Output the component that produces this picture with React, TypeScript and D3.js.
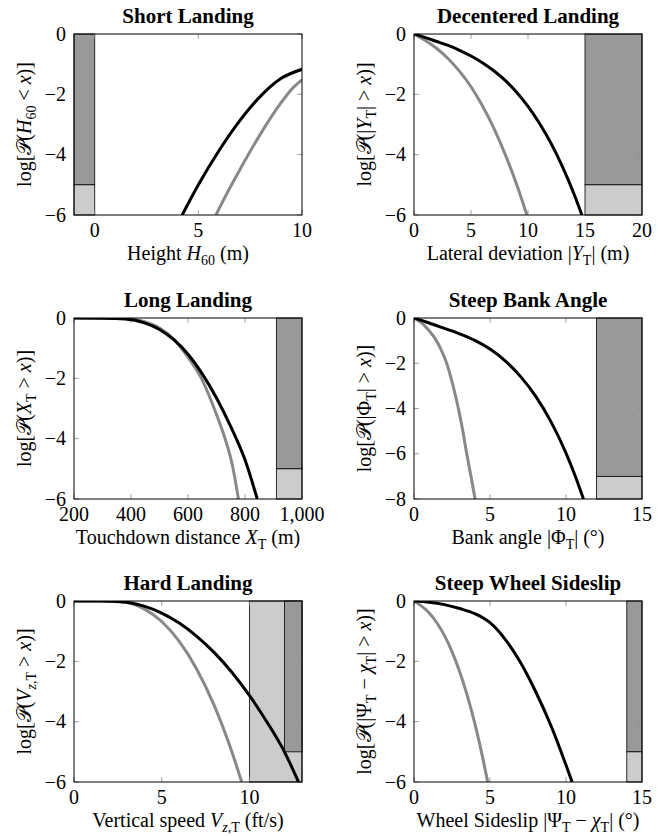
import React from "react";
import * as d3 from "d3";

type Pt = [number, number];
type Seg = { t: string; i?: boolean; sub?: boolean };

// panel order: row by row, left then right
const titles = [
  "Short Landing",
  "Decentered Landing",
  "Long Landing",
  "Steep Bank Angle",
  "Hard Landing",
  "Steep Wheel Sideslip",
];

const xDomains: [number, number][] = [[-1, 10], [0, 20], [200, 1000], [0, 15], [0, 13], [0, 15]];
const yDomains: [number, number][] = [[-6, 0], [-6, 0], [-6, 0], [-8, 0], [-6, 0], [-6, 0]];

const xTicks = [
  [0, 5, 10],
  [0, 5, 10, 15, 20],
  [200, 400, 600, 800, 1000],
  [0, 5, 10, 15],
  [0, 5, 10],
  [0, 5, 10, 15],
];
const yTicks = [
  [0, -2, -4, -6],
  [0, -2, -4, -6],
  [0, -2, -4, -6],
  [0, -2, -4, -6, -8],
  [0, -2, -4, -6],
  [0, -2, -4, -6],
];

// black curves
const shortBlack: Pt[] = [[4.22, -6], [5, -5.0], [6, -3.86], [7, -2.87], [8, -2.06], [9, -1.47], [10, -1.17]];
const decentBlack: Pt[] = [[0, 0], [1, -0.12], [2, -0.25], [3, -0.38], [4, -0.54], [5, -0.73], [6, -0.95], [7, -1.22], [8, -1.54], [9, -1.93], [10, -2.4], [11, -2.96], [12, -3.61], [13, -4.38], [14, -5.27], [14.73, -6]];
const longBlack: Pt[] = [[200, 0], [300, -0.005], [380, -0.03], [450, -0.17], [500, -0.38], [550, -0.72], [600, -1.2], [650, -1.85], [700, -2.65], [750, -3.6], [800, -4.7], [843, -6]];
const bankBlack: Pt[] = [[0, 0], [1, -0.22], [2, -0.46], [3, -0.7], [4, -0.99], [5, -1.37], [6, -1.89], [7, -2.58], [8, -3.45], [9, -4.57], [10, -5.97], [10.6, -6.97], [11.15, -8]];
const hardBlack: Pt[] = [[0, 0], [1, 0], [2, -0.005], [3, -0.04], [4, -0.17], [5, -0.4], [6, -0.73], [7, -1.17], [8, -1.71], [9, -2.36], [10, -3.13], [11, -4.01], [12, -5.0], [12.8, -6]];
const slipBlack: Pt[] = [[0, 0], [1, -0.04], [2, -0.12], [3, -0.25], [4, -0.42], [5, -0.72], [6, -1.27], [7, -2.03], [8, -3.0], [9, -4.12], [10, -5.44], [10.4, -6]];

// gray curves
const shortGray: Pt[] = [[5.85, -6], [6, -5.79], [7, -4.5], [8, -3.31], [9, -2.27], [9.5, -1.83], [10, -1.52]];
const decentGray: Pt[] = [[0, 0], [1, -0.215], [2, -0.48], [3, -0.82], [4, -1.24], [5, -1.75], [6, -2.38], [7, -3.12], [8, -3.99], [9, -4.98], [9.9, -6]];
const longGray: Pt[] = [[200, 0], [300, 0], [380, -0.02], [450, -0.13], [500, -0.33], [550, -0.7], [600, -1.3], [647, -2.0], [700, -3.2], [730, -4.0], [755, -4.85], [777, -6]];
const bankGray: Pt[] = [[0, 0], [0.5, -0.22], [0.94, -0.52], [1.38, -0.9], [1.75, -1.35], [2.15, -2.0], [2.55, -2.95], [2.92, -4.0], [3.2, -4.95], [3.47, -6], [3.75, -7], [4.02, -8]];
const hardGray: Pt[] = [[0, 0], [1, 0], [2, -0.005], [3, -0.05], [4, -0.26], [5, -0.68], [6, -1.34], [7, -2.26], [8, -3.47], [9, -5.0], [9.56, -6]];
const slipGray: Pt[] = [[0, 0], [0.5, -0.17], [1, -0.4], [1.5, -0.72], [2, -1.14], [2.5, -1.68], [3, -2.34], [3.5, -3.13], [4, -4.06], [4.5, -5.15], [4.85, -6]];

const blackCurves = [shortBlack, decentBlack, longBlack, bankBlack, hardBlack, slipBlack];
const grayCurves = [shortGray, decentGray, longGray, bankGray, hardGray, slipGray];

// limit zones: [x0, x1, y0, y1, level] (level 1 = light, 2 = dark)
type Zone = [number, number, number, number, number];
const shortZones: Zone[] = [[-1, 0, -5, 0, 2], [-1, 0, -6, -5, 1]];
const decentZones: Zone[] = [[15, 20, -5, 0, 2], [15, 20, -6, -5, 1]];
const longZones: Zone[] = [[910, 1000, -5, 0, 2], [910, 1000, -6, -5, 1]];
const bankZones: Zone[] = [[12, 15, -7, 0, 2], [12, 15, -8, -7, 1]];
const hardZones: Zone[] = [[10, 13, -6, 0, 1], [12, 13, -5, 0, 2]];
const slipZones: Zone[] = [[14, 15, -5, 0, 2], [14, 15, -6, -5, 1]];
const zones = [shortZones, decentZones, longZones, bankZones, hardZones, slipZones];

const xLabels: Seg[][] = [
  [{ t: "Height " }, { t: "H", i: true }, { t: "60", sub: true }, { t: " (m)" }],
  [{ t: "Lateral deviation |" }, { t: "Y", i: true }, { t: "T", sub: true }, { t: "| (m)" }],
  [{ t: "Touchdown distance " }, { t: "X", i: true }, { t: "T", sub: true }, { t: " (m)" }],
  [{ t: "Bank angle |Φ" }, { t: "T", sub: true }, { t: "| (°)" }],
  [{ t: "Vertical speed " }, { t: "V", i: true }, { t: "z", i: true, sub: true }, { t: ",T", sub: true }, { t: " (ft/s)" }],
  [{ t: "Wheel Sideslip |Ψ" }, { t: "T", sub: true }, { t: " − " }, { t: "χ", i: true }, { t: "T", sub: true }, { t: "| (°)" }],
];

const P = "𝒫";
const yLabels: Seg[][] = [
  [{ t: "log[" + P + "(" }, { t: "H", i: true }, { t: "60", sub: true }, { t: " < " }, { t: "x", i: true }, { t: ")]" }],
  [{ t: "log[" + P + "(|" }, { t: "Y", i: true }, { t: "T", sub: true }, { t: "| > " }, { t: "x", i: true }, { t: ")]" }],
  [{ t: "log[" + P + "(" }, { t: "X", i: true }, { t: "T", sub: true }, { t: " > " }, { t: "x", i: true }, { t: ")]" }],
  [{ t: "log[" + P + "(|Φ" }, { t: "T", sub: true }, { t: "| > " }, { t: "x", i: true }, { t: ")]" }],
  [{ t: "log[" + P + "(" }, { t: "V", i: true }, { t: "z", i: true, sub: true }, { t: ",T", sub: true }, { t: " > " }, { t: "x", i: true }, { t: ")]" }],
  [{ t: "log[" + P + "(|Ψ" }, { t: "T", sub: true }, { t: " − " }, { t: "χ", i: true }, { t: "T", sub: true }, { t: "| > " }, { t: "x", i: true }, { t: ")]" }],
];

const FONT = "'Liberation Serif', 'Times New Roman', serif";
const FS = 20;
const W = 228;
const H = 181;
const lefts = [74, 414];
const tops = [34, 318, 601];
const fmt = d3.format(",");

function Label({ segs, ...rest }: { segs: Seg[]; [k: string]: any }) {
  let prev = false;
  const shift = 5;
  return (
    <text {...rest}>
      {segs.map((s, k) => {
        const dy = (s.sub ? shift : 0) - (prev ? shift : 0);
        prev = !!s.sub;
        return (
          <tspan
            key={k}
            dy={dy}
            fontStyle={s.i ? "italic" : "normal"}
            fontSize={s.sub ? FS * 0.7 : FS}
          >
            {s.t}
          </tspan>
        );
      })}
    </text>
  );
}

function Panel({ i }: { i: number }) {
  const left = lefts[i % 2];
  const top = tops[Math.floor(i / 2)];
  const x = d3.scaleLinear().domain(xDomains[i]).range([0, W]);
  const y = d3.scaleLinear().domain(yDomains[i]).range([H, 0]);
  const line = d3
    .line<Pt>()
    .x((d) => x(d[0]))
    .y((d) => y(d[1]))
    .curve(d3.curveMonotoneX);
  const clip = "clip" + i;
  const tl = 5;
  return (
    <g transform={`translate(${left},${top})`} fontFamily={FONT}>
      <defs>
        <clipPath id={clip}>
          <rect x={0} y={0} width={W} height={H} />
        </clipPath>
      </defs>
      {zones[i].map((z, k) => (
        <rect
          key={k}
          x={x(z[0])}
          y={y(z[3])}
          width={x(z[1]) - x(z[0])}
          height={y(z[2]) - y(z[3])}
          fill={z[4] === 2 ? "#999999" : "#cccccc"}
          stroke="#000"
          strokeWidth={0.8}
        />
      ))}
      {xTicks[i].map((t) => (
        <g key={"xt" + t} stroke="#8c8c8c" strokeWidth={0.8}>
          <line x1={x(t)} x2={x(t)} y1={H} y2={H - tl} />
          <line x1={x(t)} x2={x(t)} y1={0} y2={tl} />
        </g>
      ))}
      {yTicks[i].map((t) => (
        <g key={"yt" + t} stroke="#8c8c8c" strokeWidth={0.8}>
          <line x1={0} x2={tl} y1={y(t)} y2={y(t)} />
          <line x1={W} x2={W - tl} y1={y(t)} y2={y(t)} />
        </g>
      ))}
      <g clipPath={`url(#${clip})`}>
        <path d={line(grayCurves[i]) || ""} fill="none" stroke="#888888" strokeWidth={3} />
        <path d={line(blackCurves[i]) || ""} fill="none" stroke="#000" strokeWidth={3} />
      </g>
      <rect x={0} y={0} width={W} height={H} fill="none" stroke="#000" strokeWidth={1} />
      {xTicks[i].map((t) => (
        <text key={"xl" + t} x={x(t)} y={H + 22} textAnchor="middle" fontSize={FS}>
          {fmt(t)}
        </text>
      ))}
      {yTicks[i].map((t) => (
        <text key={"yl" + t} x={-8} y={y(t)} dy="0.33em" textAnchor="end" fontSize={FS}>
          {fmt(t)}
        </text>
      ))}
      <text x={W / 2} y={-11.5} textAnchor="middle" fontSize={21} fontWeight="bold">
        {titles[i]}
      </text>
      <Label segs={xLabels[i]} x={W / 2} y={H + 45} textAnchor="middle" fontSize={FS} />
      <Label
        segs={yLabels[i]}
        transform={`translate(-43,${H / 2}) rotate(-90)`}
        textAnchor="middle"
        fontSize={FS}
      />
    </g>
  );
}

export default function App() {
  return (
    <svg
      width={670}
      height={836}
      style={{ position: "absolute", left: 0, top: 0, background: "#fff" }}
    >
      <rect width={670} height={836} fill="#fff" />
      {titles.map((_, i) => (
        <Panel key={i} i={i} />
      ))}
    </svg>
  );
}
